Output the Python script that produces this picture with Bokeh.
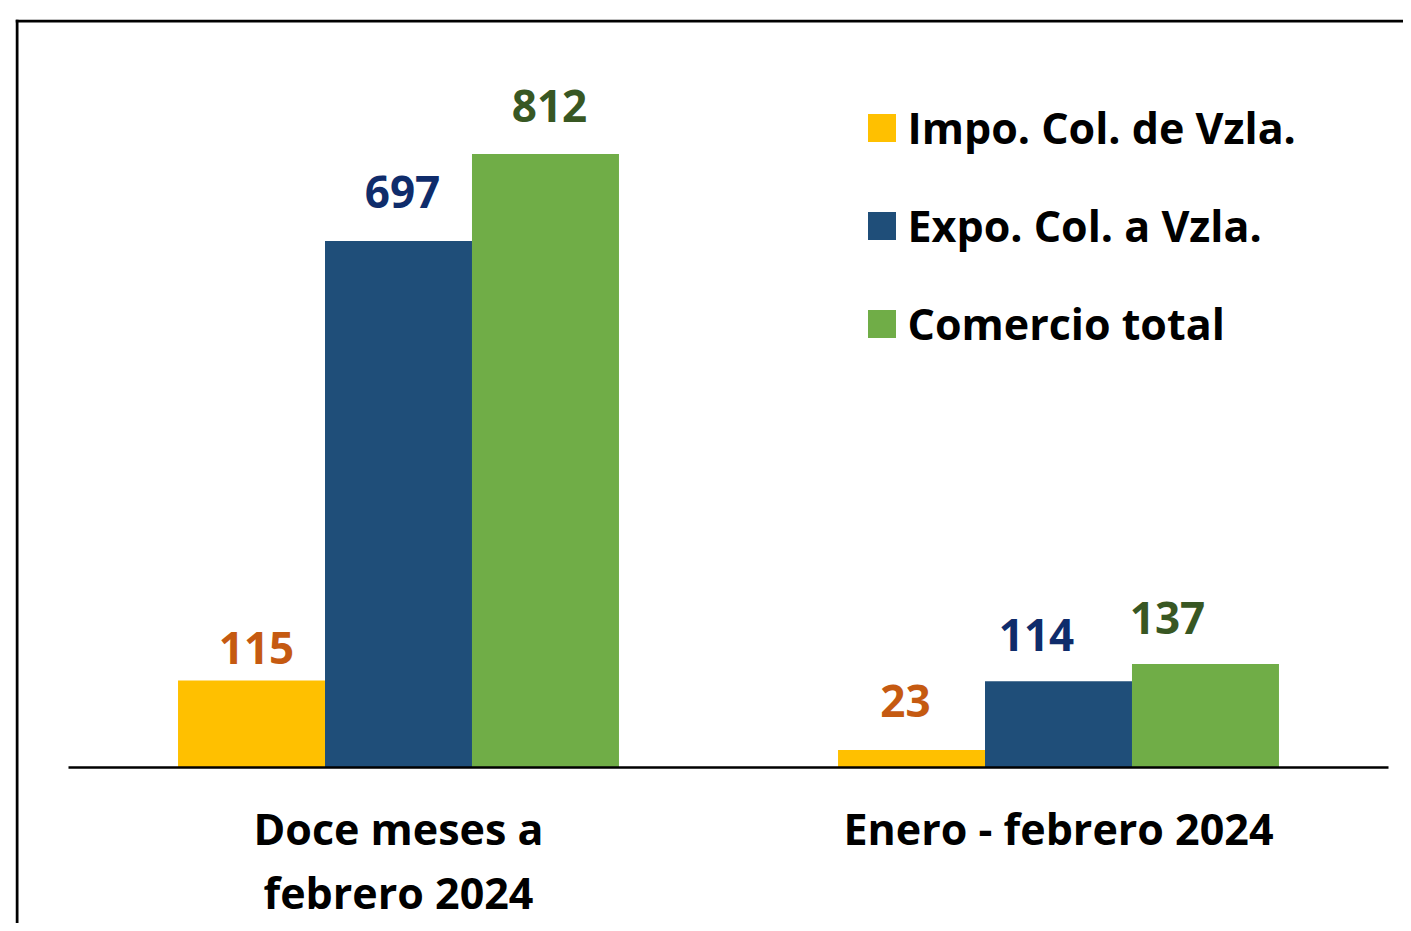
from bokeh.plotting import figure
from bokeh.models import ColumnDataSource, Span, Legend, LegendItem, Range1d
from bokeh.core.properties import value
from bokeh.embed import file_html
from bokeh.resources import INLINE

# ---- data ----
categories = ["Doce meses a\nfebrero 2024", "Enero - febrero 2024"]
series_names = ["Impo. Col. de Vzla.", "Expo. Col. a Vzla.", "Comercio total"]
impo = [115, 23]
expo = [697, 114]
total = [812, 137]

# ---- styles ----
bar_colors = ["#FFC000", "#1F4E79", "#70AD47"]
label_colors = ["#C55A11", "#0F2C6B", "#385723"]
FONT = "Open Sans"
VAL_SIZE = 44
CAT_SIZE = 43
LEG_SIZE = 43
BAR_W = 0.2227
offsets = [-BAR_W, 0.0, BAR_W]
# per-label pixel nudges (dx, dy to baseline) as placed in the original chart
label_dx = [[5, -6], [4, -22], [4, -38]]
label_dy = [[-15, -31], [-31, -28], [-30, -28]]
VAL_ASC = 0.77   # top-to-baseline distance of value labels, in em (calibrated)
CAT_SHIFT = 31   # px from category baseline line to top of label block

# frame geometry (picture px): x=0 at 68px, 660 px per group; y=0 at 767px, 0.7555 px/unit
PXX = 660.0
PXY = 0.7555
W, H = 1403, 923
FL, FT, FR, FB = 15, 19, W, H
x_start = (FL - 68) / PXX
x_end = (FR - 68) / PXX
y_end = (767 - FT) / PXY
y_start = -(FB - 767) / PXY

p = figure(width=W, height=H, output_backend="svg", toolbar_location=None,
           x_range=Range1d(x_start, x_end), y_range=Range1d(y_start, y_end),
           x_axis_location=None, y_axis_location=None,
           min_border_left=FL, min_border_top=FT,
           min_border_right=0, min_border_bottom=0)
p.grid.visible = False
p.outline_line_color = None
p.background_fill_color = "white"
p.border_fill_color = "white"

centers = [i + 0.5 for i in range(len(categories))]
series = [impo, expo, total]

renderers = []
for k, vals in enumerate(series):
    xs = [c + offsets[k] for c in centers]
    dys = [d - VAL_ASC * VAL_SIZE for d in label_dy[k]]
    src = ColumnDataSource(dict(x=xs, top=vals, lab=[str(v) for v in vals],
                                dx=label_dx[k], dy=dys))
    r = p.vbar(x="x", top="top", bottom=0, width=BAR_W, source=src,
               fill_color=bar_colors[k], line_color=None)
    renderers.append(r)
    p.text(x="x", y="top", text="lab", source=src, x_offset="dx", y_offset="dy",
           text_align="center", text_baseline="top",
           text_font=value(FONT), text_font_style="bold", text_font_size=f"{VAL_SIZE}px",
           text_color=label_colors[k])

# baseline (category axis line)
p.segment(x0=[0], y0=[0], x1=[len(categories)], y1=[0], line_color="black", line_width=2.5)

# category labels
cat_src = ColumnDataSource(dict(x=centers, y=[0, 0], t=categories))
p.text(x="x", y="y", text="t", source=cat_src, y_offset=CAT_SHIFT,
       text_align="center", text_baseline="top", text_line_height=1.10,
       text_font=value(FONT), text_font_style="bold", text_font_size=f"{CAT_SIZE}px",
       text_color="black")

# outer border (left and top edges)
left_px, top_px = 16.5, 20.5
p.add_layout(Span(location=(left_px - 68) / PXX, dimension="height", line_color="black", line_width=3))
p.add_layout(Span(location=(767 - top_px) / PXY, dimension="width", line_color="black", line_width=3))

# legend
GW = 35
items = [LegendItem(label=series_names[k], renderers=[renderers[k]]) for k in range(3)]
legend = Legend(items=items, location=(848.5, 570), orientation="vertical",
                glyph_width=GW, glyph_height=GW, label_height=60, spacing=38,
                label_standoff=9, padding=0, margin=0,
                border_line_color=None, background_fill_alpha=0,
                label_text_font=FONT, label_text_font_style="bold",
                label_text_font_size=f"{LEG_SIZE}px", label_text_color="black")
p.add_layout(legend, "center")

open("out.html", "w").write(file_html(p, INLINE))
